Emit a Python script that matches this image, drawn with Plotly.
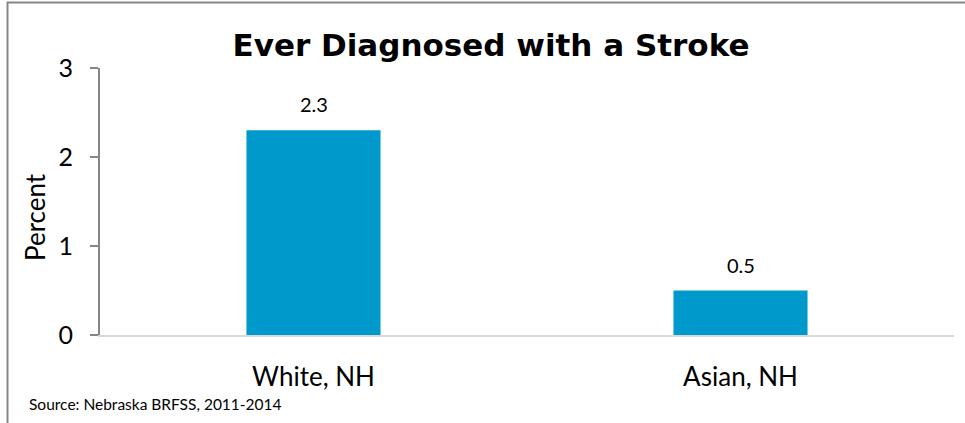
import plotly.graph_objects as go

categories = ["White, NH", "Asian, NH"]
values = [2.3, 0.5]
value_labels = ["2.3", "0.5"]
y_ticks = [0, 1, 2, 3]
title_text = "Ever Diagnosed with a Stroke"
y_title = "Percent"
source_text = "Source: Nebraska BRFSS, 2011-2014"

W, H = 965, 423
L, R, T, B = 100, 11, 68, 88
pw = W - L - R
ph = H - T - B

def px_x(x):
    return (x - L) / pw

def px_y(y):
    return (H - B - y) / ph

BODY = "Lato, 'Open Sans', sans-serif"

fig = go.Figure()
fig.add_trace(go.Bar(
    x=categories, y=values,
    marker=dict(color="#0099CC", line=dict(width=0)),
    width=0.314,
    hoverinfo="skip",
))

for cat, val, lab in zip(categories, values, value_labels):
    fig.add_annotation(x=cat, y=val, text=lab, xref="x", yref="y",
                       showarrow=False, yanchor="middle", yshift=26,
                       font=dict(family=BODY, size=20, color="#000000"))

fig.update_layout(
    width=W, height=H,
    margin=dict(l=L, r=R, t=T, b=B),
    paper_bgcolor="white", plot_bgcolor="white",
    showlegend=False,
    title=dict(text="<b>" + title_text + "</b>", x=px_x(491), xref="paper", xanchor="center",
               y=1 - 45 / H, yanchor="middle",
               font=dict(family="'DejaVu Sans', sans-serif", size=31, color="#000000")),
    xaxis=dict(
        showline=True, linecolor="#d9d9d9", linewidth=2,
        ticks="", showgrid=False,
        tickfont=dict(family=BODY, size=26, color="#000000"),
        ticklabelstandoff=18,
        range=[-0.5, 1.5],
    ),
    yaxis=dict(
        range=[0, 3], tickvals=y_ticks, showgrid=False, zeroline=False,
        showline=True, linecolor="#868686", linewidth=2,
        ticks="outside", ticklen=8, tickcolor="#868686", tickwidth=2,
        tickfont=dict(family=BODY, size=25, color="#000000"),
        ticklabelstandoff=12,
    ),
    bargap=0.686,
)

fig.add_annotation(text=y_title, xref="paper", yref="paper", textangle=-90,
                   x=px_x(35), y=px_y(217), xanchor="center", yanchor="middle",
                   showarrow=False, font=dict(family=BODY, size=26, color="#000000"))

fig.add_annotation(text=source_text, xref="paper", yref="paper",
                   x=px_x(27), y=px_y(404), xanchor="left", yanchor="middle",
                   showarrow=False, font=dict(family=BODY, size=15.5, color="#000000"))

fig.add_shape(type="rect", xref="paper", yref="paper",
              x0=px_x(7.5), x1=px_x(1000), y0=px_y(450), y1=px_y(2.5),
              line=dict(color="#868686", width=2), fillcolor="rgba(0,0,0,0)", layer="below")

fig.write_html("out.html", config={"displayModeBar": False},
               post_script="document.body.style.margin='0';document.body.style.overflow='hidden';")
